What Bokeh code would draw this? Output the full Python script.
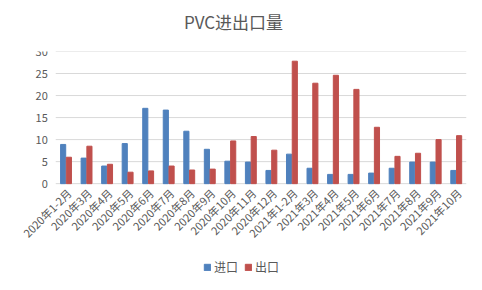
from bokeh.plotting import figure
from bokeh.models import ColumnDataSource, Range1d, Legend, LegendItem, Title
from bokeh.core.properties import value
from bokeh.transform import dodge
from bokeh.embed import file_html
from bokeh.resources import INLINE
import math

categories = ["2020年1-2月", "2020年3月", "2020年4月", "2020年5月", "2020年6月", "2020年7月",
              "2020年8月", "2020年9月", "2020年10月", "2020年11月", "2020年12月",
              "2021年1-2月", "2021年3月", "2021年4月", "2021年5月", "2021年6月",
              "2021年7月", "2021年8月", "2021年9月", "2021年10月"]
imports = [8.9, 5.8, 4.0, 9.1, 17.1, 16.7, 11.9, 7.8, 5.1, 4.9, 3.0,
           6.7, 3.5, 2.1, 2.1, 2.4, 3.5, 4.9, 4.9, 3.0]
exports = [6.0, 8.5, 4.4, 2.6, 2.9, 4.0, 3.1, 3.3, 9.7, 10.7, 7.6,
           27.8, 22.8, 24.6, 21.4, 12.8, 6.2, 6.9, 10.0, 10.9]
series_names = ["进口", "出口"]
y_ticks = [0, 5, 10, 15, 20, 25, 30]

FONT = "Noto Sans CJK SC"
GRAY = "#595959"
n = len(categories)

src = ColumnDataSource(dict(idx=list(range(n)), cat=categories, imp=imports, exp=exports,
                            base=[0] * n))
tick_src = ColumnDataSource(dict(y=y_ticks, label=[str(t) for t in y_ticks]))

p = figure(width=482, height=290, x_range=Range1d(-3.19, n - 0.5), y_range=Range1d(-23.8, 30),
           output_backend="svg", toolbar_location=None, title=None,
           x_axis_location=None, y_axis_location=None,
           min_border_left=0, min_border_right=16, min_border_top=51, min_border_bottom=2)
p.grid.visible = False

# horizontal gridlines spanning the category area
p.segment(x0=-0.5, x1=n - 0.5, y0="y", y1="y", source=tick_src, line_color="#D9D9D9", line_width=1)
# y tick labels
p.text(x=-0.5, y="y", text="label", source=tick_src, text_align="right", text_baseline="middle",
       text_font=value(FONT), text_font_size="11px", text_color=GRAY, x_offset=-8)

r1 = p.vbar(x=dodge("idx", -0.14), top="imp", width=0.25, source=src, color="#4F81BD")
r2 = p.vbar(x=dodge("idx", 0.14), top="exp", width=0.25, source=src, color="#C0504D")

# category labels, rotated 45 degrees
p.text(x="idx", y="base", text="cat", source=src, angle=math.pi / 4,
       text_align="right", text_baseline="middle", text_font=value(FONT),
       text_font_size="11px", text_color=GRAY, x_offset=3, y_offset=7)

spacer = Title(text="\u00a0", text_font_size="10px", standoff=0)
p.add_layout(spacer, "above")
main_title = Title(text="PVC进出口量", align="center", text_font=FONT, text_font_size="17px",
                   text_font_style="normal", text_color=GRAY, offset=8)
p.add_layout(main_title, "above")

p.outline_line_color = None

legend = Legend(items=[LegendItem(label=series_names[0], renderers=[r1]),
                       LegendItem(label=series_names[1], renderers=[r2])],
                orientation="horizontal", location=(203, 13),
                label_text_font=FONT, label_text_font_size="12px", label_text_color=GRAY,
                glyph_width=8, glyph_height=8, spacing=6, label_standoff=3,
                border_line_color=None, background_fill_alpha=0, margin=0, padding=1)
p.add_layout(legend, "center")

p.border_fill_color = "white"

open("out.html", "w").write(file_html(p, INLINE))
